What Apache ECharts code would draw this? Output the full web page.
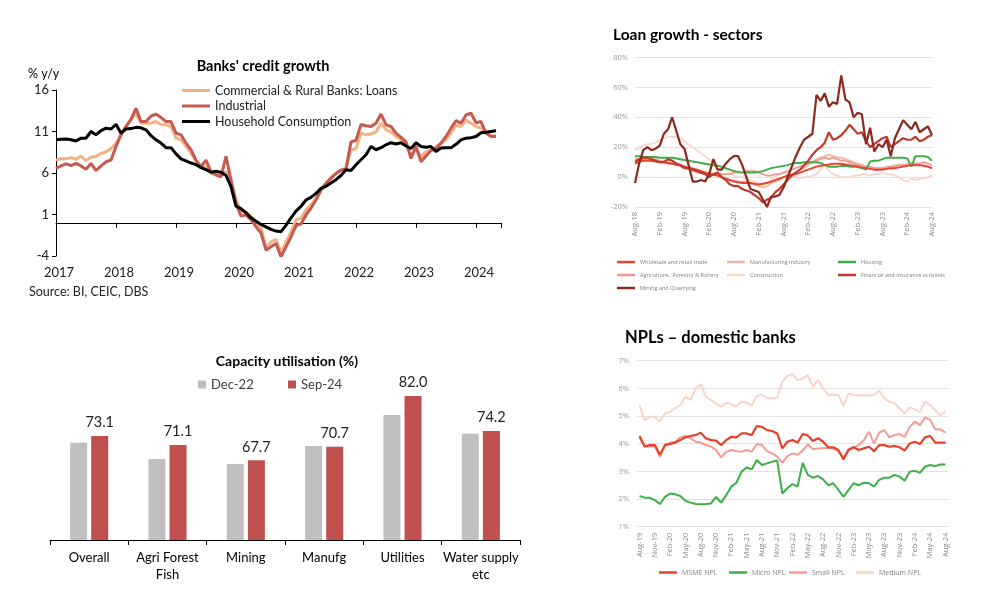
<!DOCTYPE html>
<html>
<head>
<meta charset="utf-8">
<script src="https://cdn.jsdelivr.net/npm/echarts@6/dist/echarts.min.js"></script>
<style>
  html, body { margin: 0; padding: 0; background: #fff; }
  #main { width: 1000px; height: 603px; }
</style>
</head>
<body>
<div id="main"></div>
<script>
// ---- Banks' credit growth (monthly, Jan-17 .. May-24) ----
var yearLabels = ['2017', '2018', '2019', '2020', '2021', '2022', '2023', '2024'];
var commercialLoans = [
  7.55, 7.75, 7.7, 7.85, 7.65, 8.05, 7.5, 7.9, 8.0, 8.35,
  8.55, 8.95, 9.55, 10.6, 11.6, 12.45, 13.2, 12.0, 12.0, 12.0,
  12.2, 11.85, 11.8, 11.6, 10.2, 10.0, 9.2, 8.4, 7.4, 6.7,
  6.75, 5.95, 5.85, 5.75, 6.15, 5.15, 2.75, 1.35, 1.35, 0.75,
  0.15, -0.65, -3.0, -2.3, -2.0, -3.6, -2.3, -1.1, 0.35, 0.55,
  1.55, 2.15, 2.95, 4.15, 4.75, 5.5, 5.95, 6.3, 6.55, 8.75,
  8.95, 10.8, 10.6, 10.7, 10.95, 12.0, 11.2, 10.95, 10.4, 10.05,
  9.55, 8.15, 8.95, 7.95, 8.55, 8.75, 9.15, 9.55, 10.0, 10.8,
  11.8, 11.6, 12.4, 12.0, 11.6, 11.4, 10.85, 10.5, 10.5
];
var industrial = [
  6.55, 6.85, 7.1, 6.9, 7.15, 6.85, 6.45, 7.15, 6.3, 6.85,
  7.35, 7.55, 9.2, 10.6, 11.6, 12.45, 13.8, 12.2, 12.2, 12.85,
  13.1, 12.7, 12.2, 12.2, 10.8, 10.6, 9.6, 8.8, 7.55, 6.75,
  7.55, 6.15, 5.75, 5.55, 8.0, 5.15, 2.35, 0.8, 0.95, 0.35,
  -0.45, -1.25, -3.3, -2.9, -2.5, -4.1, -2.9, -1.7, -0.3, -0.15,
  0.95, 1.75, 2.75, 3.95, 4.75, 5.35, 5.95, 6.35, 6.55, 9.75,
  9.95, 11.85, 11.7, 11.6, 12.0, 13.1, 11.8, 11.6, 10.8, 10.3,
  9.75, 7.75, 9.2, 7.35, 8.05, 8.7, 8.95, 9.6, 10.4, 11.4,
  12.3, 12.0, 13.0, 13.2, 12.05, 12.2, 10.8, 10.4, 10.4
];
var householdConsumption = [
  10.0, 10.06, 10.1, 10.0, 9.85, 10.2, 10.2, 11.0, 10.6, 11.1,
  11.4, 11.3, 11.86, 10.8, 11.3, 11.35, 11.5, 11.45, 11.2, 10.5,
  10.0, 9.6, 9.05, 9.05, 8.3, 7.7, 7.45, 7.2, 7.0, 6.65,
  6.4, 6.1, 6.2, 6.1, 5.7, 4.35, 2.0, 1.7, 1.2, 0.6,
  0.2, -0.2, -0.5, -0.8, -1.0, -1.07, -0.3, 0.6, 1.4, 2.0,
  2.75, 3.07, 3.55, 4.15, 4.4, 4.8, 5.2, 5.7, 6.4, 6.3,
  7.0, 7.6, 8.2, 9.2, 8.8, 9.05, 9.4, 9.65, 9.5, 9.65,
  9.25, 8.95, 9.65, 9.2, 9.1, 9.2, 8.6, 9.0, 9.05, 9.05,
  9.45, 10.0, 10.2, 10.25, 10.4, 10.85, 10.9, 11.0, 11.1
];

// ---- Loan growth - sectors (% y/y, Aug-18 .. Aug-24) ----
var wholesale = [
  9, 10, 11, 11, 11, 10.5, 10, 10, 9.5, 9,
  8.5, 8, 7, 6, 5.5, 5, 4, 3, 2, 1.5,
  1, 0, -1, -2, -3, -3.5, -4, -4, -4, -4.5,
  -5, -4.5, -4, -3, -2, -1, 0, 1, 1.5, 2,
  3, 4, 5, 6, 7, 7.5, 8, 8.5, 9, 9,
  9, 8.5, 8, 7.5, 7, 6.5, 6, 5.5, 5, 5,
  5, 5.5, 6, 6, 6.5, 7, 7.5, 8, 8, 8,
  7.5, 7, 6
];
var manufacturing = [
  12, 12, 13, 13, 12, 12, 11, 11, 10, 9,
  8, 7, 6, 5, 4, 3, 3, 3, 2, 2,
  1, 0, -1, -2, -2, -3, -3, -3, -4, -5,
  -6, -7, -6, -4, -3, -2, 0, 1, 2, 3,
  5, 6, 8, 10, 12, 13, 14, 15, 14, 13,
  13, 12, 11, 10, 9, 8, 7, 6, 5, 5,
  6, 7, 7, 8, 8, 8, 9, 9, 9, 8,
  8, 7, 6
];
var housing = [
  14, 14, 13.5, 13.5, 13.5, 13.5, 13, 13, 13, 13,
  12.5, 12, 11.5, 11, 10.5, 10, 9.5, 9, 8.5, 8,
  7.5, 7, 6, 5, 4, 3.5, 3, 3, 3, 3,
  3.5, 4, 5, 6, 6.5, 7, 7.5, 8, 9, 9.5,
  9.5, 10, 10, 10, 10, 9.5, 8, 7, 7, 7,
  7.5, 7.5, 7, 7, 6.5, 6, 5, 10.5, 11, 11,
  12, 13, 13, 13, 13, 13, 12.5, 7, 14, 14,
  14, 13.5, 11
];
var agriculture = [
  12, 11, 12, 12, 11, 11, 10, 10, 9, 9,
  8, 8, 7, 7, 6, 5, 4, 3, 3, 2,
  2, 2, 2, 2, 3, 3, 3, 4, 4, 4,
  3, 2, 1, 1, 2, 2, 3, 4, 5, 6,
  7, 8, 9, 10, 11, 12, 13, 12, 13, 12,
  11, 11, 10, 9, 8, 8, 7, 7, 6, 6,
  6, 6, 7, 7, 8, 8, 8, 9, 9, 9,
  10, 9, 8
];
var construction = [
  18, 20, 21, 22, 22, 23, 25, 26, 27, 27,
  27, 26, 24, 22, 20, 18, 16, 14, 12, 10,
  8, 6, 5, 3, 1, 0, 0, -1, -2, -3,
  -4, -5, -4, -2, 0, 2, 3, 2, 1, 0,
  -1, 0, 0, 1, 2, 5, 8, 4, 2, 1,
  0, 0, 0, 1, 1, 2, 2, 1, 2, 2,
  3, 2, 2, 1, 0, -2, -3, -1, -2, -1,
  -1, 0, 1
];
var financial = [
  10, 12, 13, 13, 12, 11, 10, 10, 12, 11,
  9, 8, 6, 6, 5, 4, 3, 2, 0, 2,
  3, 0, -2, -5, -6, -6, -8, -9, -10, -12,
  -14, -17, -15, -14, -10, -8, -5, -2, 1, 3,
  5, 8, 11, 15, 18, 20, 23, 30, 25, 26,
  28, 31, 35, 32, 29, 30, 24, 20, 22, 24,
  26, 27, 20, 22, 24, 26, 25, 25, 27, 24,
  25, 27, 28
];
var mining = [
  -4, 9, 18, 20, 18, 19, 21, 29, 32, 40,
  31, 22, 19, 8, -3, -3, -2, -3, 2, 12,
  5, 5, 9, 12, 14, 14, 8, 0, -8, -9,
  -10, -15, -20, -13, -13, -12, -7, 0, 7, 14,
  20, 25, 27, 29, 55, 51, 56, 47, 50, 49,
  68, 52, 50, 40, 43, 42, 22, 33, 17, 22,
  20, 25, 14, 26, 32, 38, 35, 32, 37, 30,
  32, 34, 28
];

// ---- Capacity utilisation (%) ----
var capCats = ['Overall', 'Agri Forest\nFish', 'Mining', 'Manufg', 'Utilities', 'Water supply\netc'];
var capDec22 = [71.6, 68.0, 66.9, 70.9, 77.8, 73.6];
var capSep24 = [73.1, 71.1, 67.7, 70.7, 82.0, 74.2];

// ---- NPLs - domestic banks (%, Aug-19 .. Aug-24) ----
var msmeNpl = [
  4.28, 3.9, 3.95, 3.95, 3.6, 3.95, 3.99, 4.04, 4.13, 4.23,
  4.28, 4.31, 4.4, 4.2, 4.13, 4.11, 3.95, 4.13, 4.25, 4.23,
  4.37, 4.37, 4.31, 4.64, 4.61, 4.49, 4.46, 4.37, 3.83, 4.07,
  4.13, 4.04, 4.35, 4.3, 4.1, 4.2, 4.07, 3.87, 3.87, 3.77,
  3.43, 3.77, 3.87, 3.77, 3.83, 3.89, 3.73, 3.95, 3.95, 3.89,
  3.92, 3.87, 3.75, 4.01, 4.07, 3.99, 4.23, 4.28, 4.04, 4.04,
  4.04
];
var microNpl = [
  2.11, 2.05, 2.05, 1.96, 1.82, 2.08, 2.2, 2.17, 2.11, 1.94,
  1.87, 1.82, 1.81, 1.82, 1.84, 2.08, 1.87, 2.14, 2.45, 2.59,
  2.99, 3.14, 3.07, 3.41, 3.23, 3.29, 3.35, 3.39, 2.2, 2.39,
  2.54, 2.45, 3.31, 2.87, 2.77, 2.83, 2.71, 2.5, 2.57, 2.33,
  2.08, 2.33, 2.57, 2.5, 2.59, 2.57, 2.45, 2.69, 2.77, 2.77,
  2.87, 2.81, 2.66, 2.99, 3.02, 2.95, 3.17, 3.23, 3.19, 3.25,
  3.25
];
var smallNpl = [
  4.23, 3.9, 3.9, 3.9, 3.53, 3.95, 4.04, 4.07, 4.23, 4.28,
  4.2, 4.07, 4.04, 3.95, 3.9, 3.77, 3.5, 3.71, 3.77, 3.73,
  3.71, 3.77, 3.71, 3.99, 3.95, 3.73, 3.65, 3.53, 3.31, 3.55,
  3.65, 3.6, 3.75, 3.98, 3.8, 3.83, 3.84, 3.85, 3.83, 3.71,
  3.5, 3.8, 3.87, 3.95, 4.13, 4.43, 4.01, 4.4, 4.49, 4.23,
  4.31, 4.35, 4.25, 4.61, 4.8, 4.67, 4.95, 4.86, 4.52, 4.52,
  4.4
];
var mediumNpl = [
  5.4, 4.85, 4.97, 4.97, 4.8, 5.1, 5.15, 5.28, 5.4, 5.7,
  5.58, 6.0, 6.15, 5.7, 5.58, 5.46, 5.34, 5.48, 5.43, 5.34,
  5.52, 5.48, 5.4, 5.72, 5.78, 5.64, 5.64, 5.66, 6.24, 6.45,
  6.52, 6.3, 6.35, 6.48, 6.06, 6.3, 6.0, 5.76, 5.78, 5.76,
  5.36, 5.82, 5.76, 5.73, 5.76, 5.73, 5.76, 5.92, 5.64, 5.52,
  5.46, 5.28, 5.1, 5.31, 5.24, 5.15, 5.52, 5.4, 5.22, 5.0,
  5.18
];

var MON = ['Jan', 'Feb', 'Mar', 'Apr', 'May', 'Jun', 'Jul', 'Aug', 'Sep', 'Oct', 'Nov', 'Dec'];
function monthLabels(year, month, n) {
  var out = [];
  for (var i = 0; i < n; i++) {
    var m = (month + i) % 12;
    var y = year + Math.floor((month + i) / 12);
    out.push(MON[m] + '-' + String(y).slice(2));
  }
  return out;
}
var loanMonths = monthLabels(2018, 7, wholesale.length);
var nplMonths = monthLabels(2019, 7, msmeNpl.length);

function idx(arr) {
  return arr.map(function (v, i) { return [i, v]; });
}

var chart = echarts.init(document.getElementById('main'), null, { renderer: 'canvas' });

function line(name, data, color, width, xi, yi) {
  return {
    name: name, type: 'line', data: data, xAxisIndex: xi, yAxisIndex: yi,
    symbol: 'none', smooth: false, animation: false,
    lineStyle: { color: color, width: width }, itemStyle: { color: color }
  };
}

// small legends of the two right-hand charts
function tinyLegend(names, left, top, fontSize, gap) {
  return {
    data: names, orient: 'vertical', left: left, top: top,
    icon: 'rect', itemWidth: 18, itemHeight: 2.5, itemGap: gap,
    textStyle: { fontFamily: 'Open Sans', fontSize: fontSize, color: '#7f7f7f' }
  };
}

var option = {
  backgroundColor: '#fff',
  animation: false,
  textStyle: { fontFamily: 'Lato' },
  graphic: [
    { type: 'text', x: 263, y: 66, style: { text: "Banks' credit growth", font: 'bold 14.5px Lato', fill: '#000', textAlign: 'center', textVerticalAlign: 'middle' } },
    { type: 'text', x: 28, y: 74, style: { text: '% y/y', font: '12.5px Lato', fill: '#000', textAlign: 'left', textVerticalAlign: 'middle' } },
    { type: 'text', x: 29, y: 292, style: { text: 'Source: BI, CEIC, DBS', font: '12.5px Lato', fill: '#222', textAlign: 'left', textVerticalAlign: 'middle' } },
    { type: 'text', x: 613, y: 35, style: { text: 'Loan growth - sectors', font: 'bold 15.5px Lato', fill: '#000', textAlign: 'left', textVerticalAlign: 'middle' } },
    { type: 'text', x: 287, y: 361, style: { text: 'Capacity utilisation (%)', font: 'bold 14px Lato', fill: '#000', textAlign: 'center', textVerticalAlign: 'middle' } },
    { type: 'text', x: 625, y: 338, style: { text: 'NPLs \u2013 domestic banks', font: 'bold 16.5px Lato', fill: '#000', textAlign: 'left', textVerticalAlign: 'middle' } }
  ],
  legend: [
    {
      data: ['Commercial & Rural Banks: Loans', 'Industrial', 'Household Consumption'],
      orient: 'vertical', left: 177, top: 79, icon: 'rect', itemWidth: 28, itemHeight: 3, itemGap: 2.5,
      textStyle: { fontFamily: 'Lato', fontSize: 12.5, color: '#222' }
    },
    tinyLegend(['Wholesale and retail trade', 'Agriculture,  Forestry & Fishery', 'Mining and Quarrying'], 612, 254, 5.5, 7),
    tinyLegend(['Manufacturing industry', 'Construction'], 722, 254, 5.5, 7),
    tinyLegend(['Housing', 'Financial and insurance activities'], 833, 254, 5.5, 7),
    {
      data: ['Dec-22'], left: 193, top: 373, icon: 'rect', itemWidth: 8, itemHeight: 8, itemGap: 5,
      textStyle: { fontFamily: 'Lato', fontSize: 13, color: '#404040' }
    },
    {
      data: ['Sep-24'], left: 283, top: 373, icon: 'rect', itemWidth: 8, itemHeight: 8, itemGap: 5,
      textStyle: { fontFamily: 'Lato', fontSize: 13, color: '#404040' }
    },
    tinyLegend(['MSME NPL'], 654, 564, 7, 4),
    tinyLegend(['Micro NPL'], 724, 564, 7, 4),
    tinyLegend(['Small NPL'], 784, 564, 7, 4),
    tinyLegend(['Medium NPL'], 851, 564, 7, 4)
  ],
  grid: [
    { left: 56, top: 90, width: 445, height: 166 },
    { left: 635, top: 57.5, width: 297, height: 149.5 },
    { left: 50, top: 360, width: 470, height: 180 },
    { left: 637, top: 360.7, width: 311, height: 166 }
  ],
  xAxis: [
    {
      gridIndex: 0, type: 'value', min: 0, max: 89, interval: 12, position: 'bottom',
      axisLine: { onZero: true, lineStyle: { color: '#000', width: 1 } },
      axisTick: { show: true, length: 5, lineStyle: { color: '#000' } },
      axisLabel: { show: false }, splitLine: { show: false }
    },
    {
      gridIndex: 0, type: 'value', min: 0, max: 89, interval: 12, position: 'bottom',
      axisLine: { show: false, onZero: false }, axisTick: { show: false }, splitLine: { show: false },
      axisLabel: {
        show: true, margin: 10, fontSize: 13, color: '#222', padding: [0, 0, 0, 6],
        showMaxLabel: false,
        formatter: function (v) { return v % 12 === 0 ? yearLabels[v / 12] : ''; }
      }
    },
    {
      gridIndex: 1, type: 'category', data: loanMonths, boundaryGap: false,
      axisLine: { show: false }, axisTick: { show: false },
      axisLabel: { interval: 5, rotate: 90, margin: 5, fontFamily: 'Open Sans', fontSize: 7.5, color: '#8c8c8c' }
    },
    {
      gridIndex: 2, type: 'category', data: capCats,
      axisLine: { lineStyle: { color: '#000', width: 1 } },
      axisTick: { show: true, length: 5, alignWithLabel: false, lineStyle: { color: '#000' } },
      axisLabel: { interval: 0, margin: 9, fontFamily: 'Lato', fontSize: 13, color: '#000', lineHeight: 17 }
    },
    {
      gridIndex: 3, type: 'category', data: nplMonths, boundaryGap: true,
      axisLine: { show: false }, axisTick: { show: false },
      axisLabel: { interval: 2, rotate: 90, margin: 6, fontFamily: 'Open Sans', fontSize: 7.5, color: '#8c8c8c' }
    }
  ],
  yAxis: [
    {
      gridIndex: 0, type: 'value', min: -4, max: 16, interval: 5,
      axisLine: { show: true, lineStyle: { color: '#000', width: 1 } },
      axisTick: { show: true, length: 4, lineStyle: { color: '#000' } },
      axisLabel: { fontSize: 13, color: '#222', margin: 7 },
      splitLine: { show: false }
    },
    {
      gridIndex: 1, type: 'value', min: -20, max: 80, interval: 20,
      axisLine: { show: false }, axisTick: { show: false },
      axisLabel: { formatter: '{value}%', margin: 7, fontFamily: 'Open Sans', fontSize: 7.5, color: '#999' },
      splitLine: { lineStyle: { color: '#e2e2e2', width: 1 } }
    },
    {
      gridIndex: 2, type: 'value', min: 50, max: 90, show: false,
      splitLine: { show: false }
    },
    {
      gridIndex: 3, type: 'value', min: 1, max: 7, interval: 1,
      axisLine: { show: false }, axisTick: { show: false },
      axisLabel: { formatter: '{value}%', margin: 8, fontFamily: 'Open Sans', fontSize: 7.5, color: '#999' },
      splitLine: { lineStyle: { color: '#e2e2e2', width: 1 } }
    }
  ],
  series: [
    line('Commercial & Rural Banks: Loans', idx(commercialLoans), '#f4b183', 3, 0, 0),
    line('Industrial', idx(industrial), '#c55a50', 3, 0, 0),
    line('Household Consumption', idx(householdConsumption), '#000000', 3, 0, 0),

    line('Construction', construction, '#fbd5cc', 1.8, 2, 1),
    line('Manufacturing industry', manufacturing, '#f6b6a6', 1.8, 2, 1),
    line('Agriculture,  Forestry & Fishery', agriculture, '#f09a95', 1.8, 2, 1),
    line('Housing', housing, '#3fae49', 2, 2, 1),
    line('Wholesale and retail trade', wholesale, '#e8432b', 2, 2, 1),
    line('Financial and insurance activities', financial, '#c0392b', 2.2, 2, 1),
    line('Mining and Quarrying', mining, '#8b2a1c', 2.2, 2, 1),

    {
      name: 'Dec-22', type: 'bar', data: capDec22, xAxisIndex: 3, yAxisIndex: 2,
      barWidth: 17, barGap: '24%', itemStyle: { color: '#bfbfbf' }
    },
    {
      name: 'Sep-24', type: 'bar', data: capSep24, xAxisIndex: 3, yAxisIndex: 2,
      barWidth: 17, barGap: '24%', itemStyle: { color: '#c0504d' },
      label: {
        show: true, position: 'top', distance: 6, fontFamily: 'Lato', fontSize: 14.5, color: '#222',
        formatter: function (p) { return p.value.toFixed(1); }
      }
    },

    line('Medium NPL', mediumNpl, '#fad2cb', 2, 4, 3),
    line('Small NPL', smallNpl, '#f39c96', 2, 4, 3),
    line('Micro NPL', microNpl, '#3dae4a', 2, 4, 3),
    line('MSME NPL', msmeNpl, '#e8412b', 2.2, 4, 3)
  ]
};

chart.setOption(option);
</script>
</body>
</html>
